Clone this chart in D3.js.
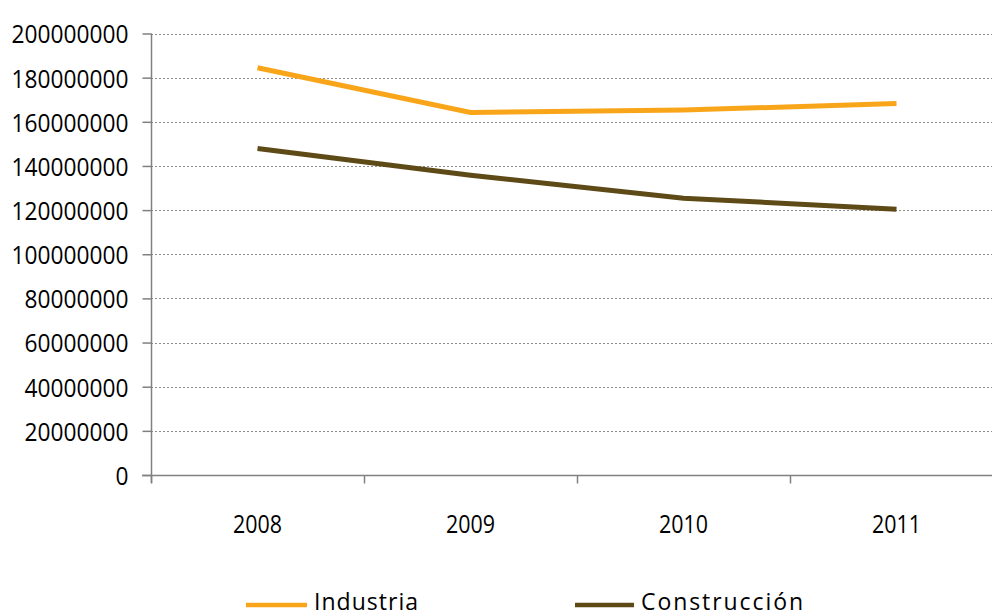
<!DOCTYPE html>
<html><head><meta charset="utf-8">
<script src="https://cdn.jsdelivr.net/npm/d3@7"></script>
<style>
html,body{margin:0;padding:0;background:#fff;}
svg{display:block;}
text{font-family:"Open Sans","Liberation Sans",sans-serif;fill:#000;}
</style></head>
<body>
<svg id="c" width="992" height="616"></svg>
<script>
const years = ["2008","2009","2010","2011"];
const industria = [184500000, 164200000, 165300000, 168300000];
const construccion = [147900000, 135800000, 125400000, 120400000];
const yTicks = [0,20000000,40000000,60000000,80000000,100000000,120000000,140000000,160000000,180000000,200000000];
const seriesNames = ["Industria","Construcción"];
const colors = ["#F9A51A","#5E4A17"];

const svg = d3.select("#c");
const x = d3.scaleBand().domain(years).range([151, 1003]).padding(0);
const y = d3.scaleLinear().domain([0, 200000000]).range([475, 33.5]);

// gridlines
svg.append("g").selectAll("line").data(yTicks.slice(1)).join("line")
  .attr("x1", 151).attr("x2", 992)
  .attr("y1", d => Math.round(y(d)) + 0.5).attr("y2", d => Math.round(y(d)) + 0.5)
  .attr("stroke", "#8c8c8c").attr("stroke-width", 1).attr("stroke-dasharray", "2,2");

// y axis
const yAxis = d3.axisLeft(y).tickValues(yTicks).tickSize(9).tickPadding(14).tickFormat(d3.format("d"));
const gy = svg.append("g").attr("transform", "translate(151.5,0)").call(yAxis);
gy.select(".domain").attr("d", "M0,33.5V483").attr("stroke", "#808080").attr("stroke-width", 1.5);
gy.selectAll(".tick line").attr("stroke", "#808080").attr("stroke-width", 1.5);
gy.selectAll(".tick text").attr("font-size", "26px")
  .attr("fill", "#000").attr("dy", "0.36em")
  .attr("textLength", d => String(d).length * 13).attr("lengthAdjust", "spacingAndGlyphs");

// x axis
const gx = svg.append("g").attr("transform", "translate(0,475.5)");
gx.append("line").attr("x1", 142).attr("x2", 992).attr("y1", 0).attr("y2", 0)
  .attr("stroke", "#808080").attr("stroke-width", 1.5);
const bounds = years.map(d => x(d)).concat([x(years[years.length-1]) + x.bandwidth()]);
gx.selectAll("line.tk").data(bounds).join("line").attr("class","tk")
  .attr("x1", d => d + 0.5).attr("x2", d => d + 0.5).attr("y1", 0).attr("y2", 8)
  .attr("stroke", "#808080").attr("stroke-width", 1.5);
gx.selectAll("text").data(years).join("text")
  .attr("x", d => x(d) + x.bandwidth()/2 - 24.5).attr("y", 57.5)
  .attr("font-size", "26px")
  .attr("textLength", 49).attr("lengthAdjust", "spacingAndGlyphs")
  .text(d => d);

// lines
const line = d3.line().x((d,i) => x(years[i]) + x.bandwidth()/2).y(d => y(d));
[industria, construccion].forEach((s, k) => {
  svg.append("path").datum(s).attr("d", line).attr("fill", "none")
    .attr("stroke", colors[k]).attr("stroke-width", 5).attr("stroke-linejoin", "miter");
});

// legend
const leg = [{x1:246, x2:307, tx:314, w:104}, {x1:575, x2:634, tx:641, w:162}];
seriesNames.forEach((n, k) => {
  svg.append("line").attr("x1", leg[k].x1).attr("x2", leg[k].x2).attr("y1", 605).attr("y2", 605)
    .attr("stroke", colors[k]).attr("stroke-width", 4.5);
  svg.append("text").attr("x", leg[k].tx).attr("y", 610).attr("font-size", "23px")
    .attr("textLength", leg[k].w).attr("lengthAdjust", "spacing").text(n);
});
</script>
</body></html>
